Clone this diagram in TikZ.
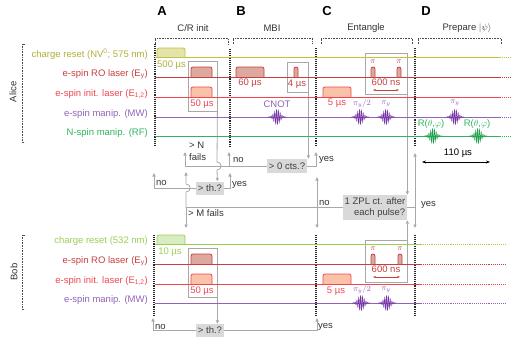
\documentclass[tikz,border=0pt]{standalone}
\usepackage{fontspec}
\setmainfont{Liberation Sans}
\usepackage{tikz}
\usetikzlibrary{arrows.meta, calc}

\definecolor{crolive}{HTML}{C2C23E}
\definecolor{crolivefill}{HTML}{E3E3AB}
\definecolor{crgreen}{HTML}{9CCE52}
\definecolor{crgreenfill}{HTML}{D8EDC3}
\definecolor{rored}{HTML}{C6403F}
\definecolor{rofill}{HTML}{DDA89E}
\definecolor{inired}{HTML}{F2464F}
\definecolor{inifill}{HTML}{F9C2A9}
\definecolor{mwpurple}{HTML}{9262B7}
\definecolor{mwburst}{HTML}{7636A8}
\definecolor{rfgreen}{HTML}{30B45F}
\definecolor{rfburst}{HTML}{1FA04E}
\definecolor{flowgray}{HTML}{A8A8A8}
\definecolor{decgray}{HTML}{D9D9D9}

% pulse: x1, x2, base, top, colours
\newcommand{\pulse}[5]{%
  \draw[#5, line width=0.8pt, rounded corners=2pt] (#1,#3) -- (#1,#4) -- (#2,#4) -- (#2,#3);}

\begin{document}
\begin{tikzpicture}[
  x=1pt, y=-1pt,
  font=\fontsize{9.5}{11.5}\selectfont,
  hdr/.style={font=\fontsize{13}{15}\selectfont\bfseries, inner sep=0pt},
  ph/.style={inner sep=0pt, text=black!80},
  lab/.style={anchor=east, inner sep=0pt},
  txt/.style={inner sep=0pt, text=black!80},
  sml/.style={inner sep=0pt, font=\fontsize{8}{9}\selectfont},
  sig/.style={line width=0.9pt},
  ext/.style={line width=0.9pt, densely dotted},
  sep/.style={line width=1.1pt, densely dotted, black!85},
  brk/.style={densely dotted, line width=0.6pt, black!70},
  gbox/.style={draw=flowgray, line width=0.8pt, inner sep=0pt},
  flow/.style={draw=flowgray, line width=0.8pt},
  flw/.style={flow, -{Triangle[length=3.5pt, width=3pt]}},
  dec/.style={fill=decgray, inner sep=1.5pt, text=black!75},
  burst/.pic={\draw[line width=0.5pt] plot[domain=-9:9, samples=145] (\x,{7.5*exp(-(\x/4.2)^2)*sin(200*\x)});}
]
\useasboundingbox (0,0) rectangle (520,346);

% section headers
\node[hdr] (hA) at (162,11) {A};
\node[hdr] (hB) at (241,11) {B};
\node[hdr] (hC) at (327,11) {C};
\node[hdr] (hD) at (426,11) {D};
\node[ph] (pA) at (193,28) {C/R init};
\node[ph] (pB) at (272,28) {MBI};
\node[ph] (pC) at (366,28) {Entangle};
\node[ph] (pD) at (467,28) {Prepare $|\psi\rangle$};
\draw[brk] (155,44) |- (228,38) -- (228,44);
\draw[brk] (233,44) |- (312,38) -- (312,44);
\draw[brk] (321,44) |- (412,38) -- (412,44);
\draw[brk] (418,44) |- (501,38) -- (501,44);

% Alice / Bob brackets
\draw[brk] (25,44) -- (22,44) -- (22,142) -- (25,142);
\node[rotate=90, txt] (alice) at (13,92) {Alice};
\draw[brk] (25,235) -- (22,235) -- (22,309) -- (25,309);
\node[rotate=90, txt] (bob) at (14,272) {Bob};

% gray timing boxes
\node[gbox, minimum width=29, minimum height=50] (crA) at (202.5,86) {};
\node[gbox, minimum width=21, minimum height=30] (mbiBox) at (297.5,77) {};
\node[gbox, minimum width=42, minimum height=41] (entA) at (386,73.5) {};
\node[gbox, minimum width=29, minimum height=49] (crB) at (202.5,272.5) {};
\node[gbox, minimum width=42, minimum height=42] (entB) at (386,261) {};

% decisions
\node[dec, minimum width=26, minimum height=13] (thA) at (210,188) {> th.?};
\node[dec, minimum width=40, minimum height=14] (cts) at (287,166) {> 0 cts.?};
\node[dec, minimum width=64, minimum height=25, align=right] (zpl) at (375,207.5) {1 ZPL ct. after\\each pulse?};
\node[dec, minimum width=26, minimum height=13] (thB) at (210,330.5) {> th.?};

% arrow ends
\coordinate (nFail) at (185,152);
\coordinate (jNo) at (229,166);
\coordinate (mbiNo) at (229,152);
\coordinate (ctsYes) at (316,152);
\coordinate (aNo) at (154,173);
\coordinate (aYes) at (230,173);
\coordinate (jM) at (186,207.5);
\coordinate (mUp) at (186,172);
\coordinate (mDn) at (186,228);
\coordinate (jN) at (317,207.5);
\coordinate (cUp) at (317,177);
\coordinate (cDn) at (317,228);
\coordinate (jY) at (415,207.5);
\coordinate (dUp) at (415,153);
\coordinate (dDn) at (415,228);
\coordinate (bNo) at (153,318);
\coordinate (bYes) at (317,318);

% flow
\draw[flw] (crA.south east) -- (217,162) .. controls (222.5,162) and (222.5,170) .. (217,170) -- (thA.north -| crA.south east);
\draw[flw] (mbiBox.south east) -- (mbiBox.south east |- cts.north);
\draw[flw] (cts.west) -| (nFail);
\draw[flw] (jNo) -- (mbiNo);
\draw[flw] (cts.east) -| (ctsYes);
\draw[flw] (thA.west) -| (aNo);
\draw[flw] (thA.east) -| (aYes);
\draw[flw] (entA.south east) -- (entA.south east |- zpl.north);
\draw[flw] (entB.north east) -- (entB.north east |- zpl.south);
\draw[flow] (zpl.west) -- (jM);
\draw[flw] (jM) -- (186,192) .. controls (191.5,192) and (191.5,184) .. (186,184) -- (mUp);
\draw[flw] (jM) -- (mDn);
\draw[flw] (jN) -- (cUp);
\draw[flw] (jN) -- (cDn);
\draw[flow] (zpl.east) -- (jY);
\draw[flw] (jY) -- (dUp);
\draw[flw] (jY) -- (dDn);
\draw[flw] (crB.south east) -- (crB.south east |- thB.north);
\draw[flw] (thB.west) -| (bNo);
\draw[flw] (thB.east) -| (bYes);

% flow labels
\node[txt, anchor=west, align=left, font=\fontsize{9.5}{12}\selectfont] (nLbl) at (189,151) {> N\\fails};
\node[txt, anchor=west] (noB) at (233,160) {no};
\node[txt, anchor=west] (yesB) at (319,160) {yes};
\node[txt, anchor=west] (noA) at (156,183) {no};
\node[txt, anchor=west] (yesA) at (232,185) {yes};
\node[txt, anchor=west] (mLbl) at (188,213) {> M fails};
\node[txt, anchor=west] (noC) at (319,203) {no};
\node[txt, anchor=west] (yesC) at (421,205) {yes};
\node[txt, anchor=west] (noBob) at (155,327) {no};
\node[txt, anchor=west] (yesBob) at (318,327) {yes};

% separators
\draw[sep] (155,44) -- (155,146);
\draw[sep] (230,49) -- (230,146);
\draw[sep] (316,48) -- (316,146);
\draw[sep] (415,48) -- (415,146);
\draw[sep] (154,235) -- (154,315);
\draw[sep] (316,235) -- (316,315);
\draw[sep] (415,235) -- (415,315);

% Alice pulses
\pulse{157}{185}{57}{48}{draw=crolive, fill=crolivefill}
\pulse{191}{212}{77}{67}{draw=rored, fill=rofill}
\pulse{191}{212}{97}{87}{draw=inired, fill=inifill}
\pulse{236}{264}{77}{67}{draw=rored, fill=rofill}
\pulse{294}{298}{77}{67}{draw=rored, fill=rofill}
\pulse{323}{351}{97}{87}{draw=inired, fill=inifill}
\pulse{371}{375}{77}{67}{draw=rored, fill=rofill}
\pulse{397}{401}{77}{67}{draw=rored, fill=rofill}

% Alice lines
\draw[sig, crolive] (155,57) -- (500,57);
\draw[ext, crolive] (500,57) -- (510,57);
\draw[sig, rored] (155,77) -- (500,77);
\draw[ext, rored] (500,77) -- (510,77);
\draw[sig, inired] (155,97) -- (500,97);
\draw[ext, inired] (500,97) -- (510,97);
\draw[sig, mwpurple] (155,117) -- (500,117);
\draw[ext, mwpurple] (500,117) -- (510,117);
\draw[sig, rfgreen] (155,136) -- (500,136);
\draw[ext, rfgreen] (500,136) -- (510,136);

% Alice bursts
\pic[mwburst] at (277,117) {burst};
\pic[mwburst] at (360,117) {burst};
\pic[mwburst] at (386,117) {burst};
\pic[mwburst] at (455,117) {burst};
\pic[rfburst] at (433,136) {burst};
\pic[rfburst] at (478,136) {burst};

% Alice channel labels
\node[lab, text=crolive!90!black] (aCr) at (148,54) {charge reset (NV\textsuperscript{0}; 575 nm)};
\node[lab, text=rored] (aRo) at (148,74) {e-spin RO laser (E\textsubscript{y})};
\node[lab, text=inired] (aIni) at (148,94) {e-spin init. laser (E\textsubscript{1,2})};
\node[lab, text=mwpurple] (aMw) at (148,114) {e-spin manip. (MW)};
\node[lab, text=rfgreen] (aRf) at (148,133) {N-spin manip. (RF)};

% Alice pulse labels
\node[txt, anchor=west, text=crolive!90!black] (t500) at (157,65) {500 µs};
\node[txt, text=inired] (t50a) at (202,104) {50 µs};
\node[txt, text=rored] (t60) at (250,83) {60 µs};
\node[txt, text=rored] (t4) at (297,84) {4 µs};
\node[txt, text=mwpurple] (cnot) at (277,104) {CNOT};
\node[txt, text=inired] (t5a) at (337,103) {5 µs};
\node[sml, text=mwpurple] (pia1) at (362,104) {$\pi_y/2$};
\node[sml, text=mwpurple] (pia2) at (386,104) {$\pi_y$};
\node[sml, text=mwpurple] (pia3) at (455,103) {$\pi_y$};
\node[sml, text=rored] (pa1) at (373,62) {$\pi$};
\node[sml, text=rored] (pa2) at (399,62) {$\pi$};
\node[txt, text=rored] (t600a) at (386,82) {600 ns};
\coordinate (r1a) at (373,90);
\coordinate (r2a) at (399,90);
\draw[rored, line width=0.7pt, {Stealth[length=3pt]}-{Stealth[length=3pt]}] (r1a) -- (r2a);
\node[txt, text=rfgreen] (rot1) at (431,124) {R($\theta$,$\varphi$)};
\node[txt, text=rfgreen] (rot2) at (477,124) {R($\theta$,$\varphi$)};
\node[txt, text=black] (t110) at (458,153) {110 µs};
\coordinate (w1) at (422,162);
\coordinate (w2) at (490,162);
\draw[black, line width=0.7pt, {Stealth[length=4pt]}-{Stealth[length=4pt]}] (w1) -- (w2);

% Bob pulses
\pulse{157}{185}{244}{235}{draw=crgreen, fill=crgreenfill}
\pulse{191}{212}{264}{254}{draw=rored, fill=rofill}
\pulse{191}{212}{284}{274}{draw=inired, fill=inifill}
\pulse{323}{351}{284}{274}{draw=inired, fill=inifill}
\pulse{371}{375}{264}{254}{draw=rored, fill=rofill}
\pulse{398}{402}{264}{254}{draw=rored, fill=rofill}

% Bob lines
\draw[sig, crgreen] (155,244) -- (421,244);
\draw[ext, crolive] (421,244) -- (506,244);
\draw[sig, rored] (155,264) -- (421,264);
\draw[ext, rored] (421,264) -- (506,264);
\draw[sig, inired] (155,284) -- (421,284);
\draw[ext, inired] (421,284) -- (506,284);
\draw[sig, mwpurple] (155,303) -- (421,303);
\draw[ext, mwpurple] (421,303) -- (506,303);

% Bob bursts
\pic[mwburst] at (361,303) {burst};
\pic[mwburst] at (387,303) {burst};

% Bob channel labels
\node[lab, text=crgreen] (bCr) at (148,241) {charge reset (532 nm)};
\node[lab, text=rored] (bRo) at (148,261) {e-spin RO laser (E\textsubscript{y})};
\node[lab, text=inired] (bIni) at (148,281) {e-spin init. laser (E\textsubscript{1,2})};
\node[lab, text=mwpurple] (bMw) at (148,300) {e-spin manip. (MW)};

% Bob pulse labels
\node[txt, text=crgreen] (t10) at (170,252) {10 µs};
\node[txt, text=inired] (t50b) at (202,291) {50 µs};
\node[txt, text=inired] (t5b) at (336,291) {5 µs};
\node[sml, text=mwpurple] (pib1) at (362,290) {$\pi_y/2$};
\node[sml, text=mwpurple] (pib2) at (386,290) {$\pi_y$};
\node[sml, text=rored] (pb1) at (373,249) {$\pi$};
\node[sml, text=rored] (pb2) at (400,249) {$\pi$};
\node[txt, text=rored] (t600b) at (386,269) {600 ns};
\coordinate (r1b) at (373,277);
\coordinate (r2b) at (400,277);
\draw[rored, line width=0.7pt, {Stealth[length=3pt]}-{Stealth[length=3pt]}] (r1b) -- (r2b);
\end{tikzpicture}
\end{document}
